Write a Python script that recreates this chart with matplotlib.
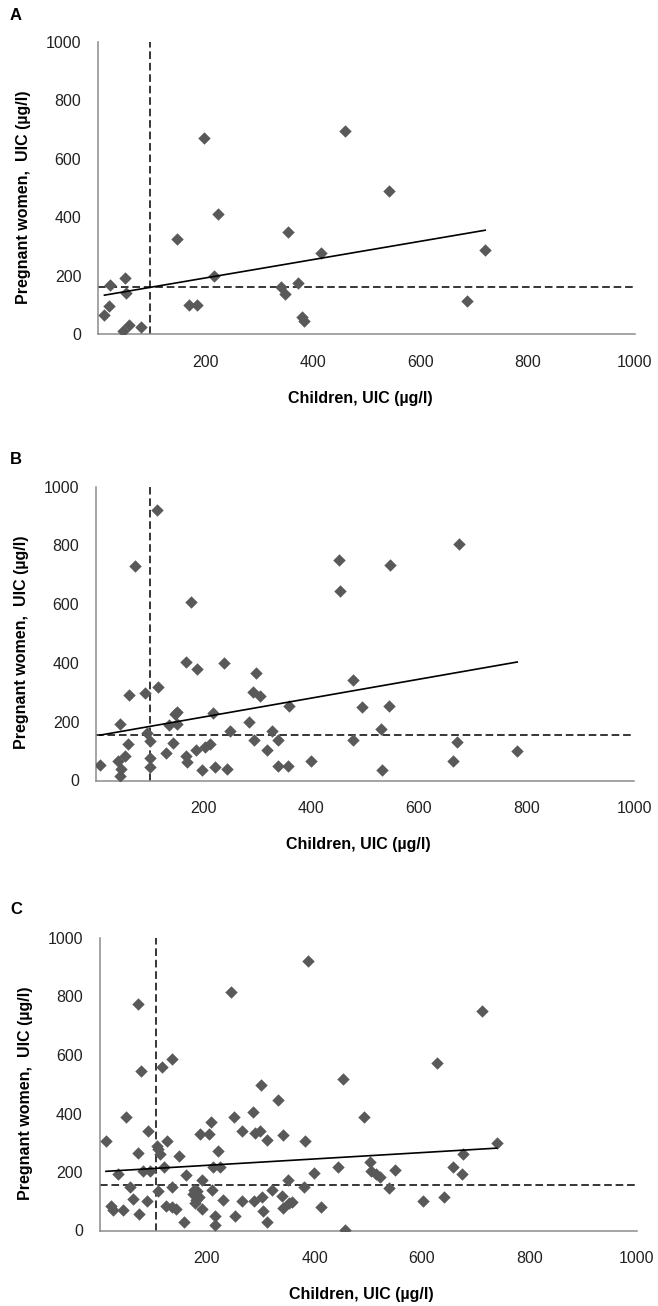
import numpy as np
import matplotlib
matplotlib.use('Agg')
import matplotlib.pyplot as plt

plt.rcParams['font.family'] = ['Liberation Sans', 'DejaVu Sans']

# Panel A: children UIC vs pregnant women UIC (ug/l)
a_child = [12, 21, 23, 51, 53, 46, 58, 80, 147, 170, 184, 198, 224, 216, 340,
           348, 353, 373, 379, 383, 416, 460, 542, 687, 721]
a_preg = [66, 97, 169, 192, 142, 11, 32, 26, 325, 101, 101, 670, 411, 200, 161,
          137, 351, 174, 58, 45, 279, 695, 489, 115, 287]

# Panel B
b_child = [7, 44, 41, 54, 46, 44, 59, 61, 72, 91, 95, 101, 100, 100, 114, 115,
           130, 135, 144, 147, 150, 150, 167, 169, 167, 177, 185, 188, 197, 202,
           212, 218, 221, 237, 244, 249, 285, 291, 304, 298, 293, 317, 327, 338,
           338, 357, 359, 400, 451, 454, 478, 478, 494, 530, 532, 544, 546, 663,
           671, 675, 783]
b_preg = [54, 191, 68, 82, 39, 17, 123, 292, 731, 298, 162, 133, 77, 46, 920, 318,
          95, 188, 129, 227, 233, 193, 85, 63, 404, 608, 105, 381, 37, 114,
          123, 230, 46, 400, 40, 168, 199, 301, 286, 366, 139, 103, 168, 139,
          51, 48, 252, 66, 752, 645, 341, 139, 250, 174, 35, 252, 735, 67,
          131, 804, 100]

# Panel C
c_child = [12, 22, 25, 34, 44, 50, 57, 62, 72, 72, 73, 78, 80, 89, 91, 94, 107,
           109, 112, 108, 117, 120, 126, 124, 134, 134, 134, 142, 147, 157, 161,
           174, 176, 180, 178, 185, 187, 190, 190, 182, 203, 207, 209, 215, 215,
           212, 220, 224, 230, 245, 250, 253, 265, 265, 286, 287, 289, 299, 300,
           303, 305, 312, 312, 320, 332, 340, 342, 342, 350, 353, 359, 381, 382,
           388, 399, 413, 443, 453, 457, 492, 503, 505, 515, 522, 549, 539, 602,
           627, 641, 658, 674, 676, 711, 739]
c_preg = [307, 85, 70, 193, 70, 387, 148, 108, 776, 265, 57, 544, 202, 102, 341,
          202, 290, 279, 262, 134, 560, 216, 307, 85, 586, 148, 80, 74, 253, 28,
          190, 125, 140, 105, 93, 115, 330, 171, 74, 136, 330, 370, 139, 51, 20,
          216, 271, 216, 105, 817, 387, 48, 100, 341, 404, 102, 332, 341, 498,
          114, 68, 28, 309, 139, 446, 119, 328, 77, 173, 93, 97, 150, 307,
          922, 196, 80, 216, 518, 2, 389, 235, 204, 193, 184, 207, 144, 102,
          572, 113, 218, 193, 261, 749, 298]

# linear trend (intercept, slope) as drawn in the figure
trend_a = (130, 0.313)
trend_b = (152, 0.321)
trend_c = (201, 0.109)

# threshold lines (children, pregnant women)
cut_a = (97, 160)
cut_b = (101, 155)
cut_c = (105, 155)

panels = [
    ('A', a_child, a_preg, trend_a, cut_a, [98, 41.7, 635, 334.3], 15),
    ('B', b_child, b_preg, trend_b, cut_b, [96, 486.7, 634, 780.5], 459.5),
    ('C', c_child, c_preg, trend_c, cut_c, [99.5, 938, 637, 1230.5], 910),
]

W, H = 658, 1306
fig = plt.figure(figsize=(W / 100, H / 100), dpi=100)

for letter, xs, ys, trend, cut, box, ly in panels:
    x0, y0, x1, y1 = box
    ax = fig.add_axes([x0 / W, 1 - y1 / H, (x1 - x0) / W, (y1 - y0) / H])

    ax.scatter(xs, ys, marker='D', s=40, color='#595959', linewidths=0, zorder=3)

    xs_arr = np.array(xs)
    tx = np.array([xs_arr.min(), xs_arr.max()])
    ax.plot(tx, trend[0] + trend[1] * tx, color='black', lw=1.2, zorder=4)

    ax.axvline(cut[0], color='black', lw=1.1, ls=(0, (5, 2.5)), zorder=2)
    ax.axhline(cut[1], color='black', lw=1.1, ls=(0, (5, 2.5)), zorder=2)

    ax.set_xlim(0, 1000)
    ax.set_ylim(0, 1000)
    ax.set_xticks([200, 400, 600, 800, 1000])
    ax.set_yticks([0, 200, 400, 600, 800, 1000])
    ax.tick_params(length=0, labelsize=11.5, labelcolor='#222222')
    ax.tick_params(axis='x', pad=15)
    ax.tick_params(axis='y', pad=12)

    for side in ['top', 'right']:
        ax.spines[side].set_visible(False)
    for side in ['left', 'bottom']:
        ax.spines[side].set_color('#8c8c8c')
        ax.spines[side].set_linewidth(1.1)

    ax.set_xlabel('Children, UIC (µg/l)', fontsize=11.5, fontweight='bold', va='center')
    ax.xaxis.set_label_coords(0.488, -0.219)
    ax.set_ylabel('Pregnant women,  UIC (µg/l)', fontsize=11.5, fontweight='bold', va='center')
    ax.yaxis.set_label_coords(-0.138, 0.47)

    fig.text(10 / W, 1 - ly / H, letter, fontsize=12, fontweight='bold',
             ha='left', va='center')

fig.savefig('out.png', dpi=100, facecolor='white')
